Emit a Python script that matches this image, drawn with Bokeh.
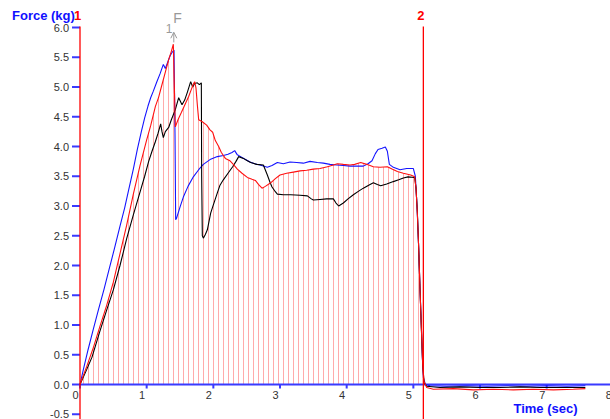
import numpy as np
from bokeh.plotting import figure
from bokeh.models import Range1d, Arrow, OpenHead
from bokeh.core.properties import value
from bokeh.embed import file_html
from bokeh.resources import INLINE

# ---------------- data ----------------
blue_t = [0.00, 0.05, 0.12, 0.20, 0.28, 0.36, 0.44, 0.52, 0.60, 0.67, 0.73, 0.80, 0.86, 0.92, 0.97,
          1.02, 1.06, 1.10, 1.15, 1.20, 1.25, 1.28, 1.31, 1.35, 1.38, 1.41, 1.425, 1.435, 1.45, 1.50,
          1.55, 1.62, 1.70, 1.78, 1.85, 1.95, 2.06, 2.15, 2.22, 2.28, 2.32, 2.36, 2.41, 2.47, 2.55,
          2.62, 2.70, 2.81, 2.88, 2.96, 3.05, 3.15, 3.25, 3.35, 3.45, 3.56, 3.65, 3.75, 3.85, 3.95,
          4.05, 4.15, 4.25, 4.32, 4.38, 4.43, 4.47, 4.53, 4.58, 4.61, 4.64, 4.70, 4.80, 4.90, 5.00,
          5.03, 5.055, 5.08, 5.10, 5.12, 5.135, 5.15, 5.18, 5.25, 5.5, 5.8, 6.1, 6.4, 6.7, 7.0, 7.3, 7.58]
blue_f = [0.00, 0.25, 0.58, 0.93, 1.27, 1.60, 1.95, 2.30, 2.66, 2.97, 3.27, 3.62, 3.95, 4.25, 4.48,
          4.68, 4.82, 4.93, 5.08, 5.22, 5.38, 5.31, 5.40, 5.52, 5.58, 5.62, 4.20, 2.77, 2.80, 2.98,
          3.15, 3.33, 3.49, 3.61, 3.70, 3.78, 3.83, 3.85, 3.87, 3.90, 3.93, 3.86, 3.83, 3.79, 3.74,
          3.71, 3.69, 3.65, 3.68, 3.73, 3.71, 3.74, 3.73, 3.72, 3.75, 3.73, 3.72, 3.70, 3.69, 3.68,
          3.67, 3.67, 3.67, 3.71, 3.76, 3.88, 3.95, 3.97, 3.99, 3.92, 3.70, 3.65, 3.61, 3.63, 3.63,
          3.50, 3.00, 2.30, 1.60, 1.00, 0.45, 0.12, 0.00, -0.02, -0.03, -0.02, -0.03, -0.02, -0.03, -0.02, -0.03, -0.02]

red_t = [0.00, 0.10, 0.20, 0.30, 0.40, 0.50, 0.60, 0.70, 0.80, 0.90, 1.00, 1.06, 1.13, 1.18, 1.22,
         1.28, 1.33, 1.37, 1.40, 1.415, 1.43, 1.47, 1.52, 1.58, 1.63, 1.67, 1.70, 1.72, 1.74, 1.76,
         1.78, 1.83, 1.90, 1.95, 1.99, 2.03, 2.08, 2.12, 2.18, 2.25, 2.30, 2.36, 2.43, 2.51, 2.58,
         2.63, 2.68, 2.73, 2.78, 2.86, 2.93, 3.00, 3.10, 3.20, 3.30, 3.40, 3.50, 3.60, 3.71, 3.80,
         3.86, 3.95, 4.05, 4.12, 4.21, 4.30, 4.40, 4.50, 4.61, 4.68, 4.76, 4.85, 4.96, 5.02, 5.04,
         5.06, 5.08, 5.10, 5.12, 5.14, 5.16, 5.20, 5.30, 5.6, 5.9, 6.2, 6.5, 6.8, 7.1, 7.4, 7.58]
red_f = [0.00, 0.30, 0.62, 0.98, 1.33, 1.72, 2.20, 2.68, 3.20, 3.68, 4.11, 4.35, 4.67, 4.83, 5.00,
         5.25, 5.46, 5.60, 5.72, 5.00, 4.33, 4.45, 4.57, 4.72, 4.84, 4.96, 5.05, 5.09, 4.98, 4.70,
         4.45, 4.42, 4.36, 4.28, 4.24, 4.10, 4.00, 3.90, 3.80, 3.76, 3.70, 3.62, 3.55, 3.48, 3.45,
         3.43, 3.36, 3.30, 3.33, 3.39, 3.46, 3.52, 3.55, 3.57, 3.59, 3.60, 3.62, 3.63, 3.66, 3.69,
         3.71, 3.70, 3.69, 3.70, 3.73, 3.70, 3.66, 3.65, 3.66, 3.62, 3.58, 3.55, 3.52, 3.49, 3.30,
         2.88, 2.30, 1.60, 0.95, 0.35, 0.05, -0.05, -0.08, -0.07, -0.09, -0.08, -0.09, -0.08, -0.09, -0.08, -0.07]

black_t = [0.00, 0.10, 0.18, 0.30, 0.40, 0.50, 0.60, 0.70, 0.80, 0.91, 0.97, 1.03, 1.08, 1.13, 1.17,
           1.21, 1.23, 1.25, 1.28, 1.33, 1.37, 1.43, 1.48, 1.53, 1.57, 1.61, 1.66, 1.69, 1.72, 1.76,
           1.79, 1.82, 1.825, 1.835, 1.85, 1.88, 1.91, 1.96, 2.00, 2.06, 2.10, 2.15, 2.22, 2.29, 2.34,
           2.38, 2.45, 2.51, 2.56, 2.65, 2.75, 2.81, 2.85, 2.88, 2.93, 2.96, 3.05, 3.16, 3.30, 3.41,
           3.47, 3.50, 3.60, 3.70, 3.80, 3.84, 3.88, 3.95, 4.02, 4.10, 4.18, 4.25, 4.33, 4.40, 4.46,
           4.51, 4.60, 4.70, 4.78, 4.85, 4.92, 5.02, 5.04, 5.06, 5.08, 5.10, 5.12, 5.14, 5.16, 5.20,
           5.40, 5.7, 6.0, 6.3, 6.6, 6.9, 7.2, 7.58]
black_f = [0.00, 0.25, 0.46, 0.90, 1.25, 1.59, 2.00, 2.45, 2.85, 3.27, 3.50, 3.75, 3.92, 4.08, 4.22,
           4.38, 4.25, 4.15, 4.25, 4.32, 4.45, 4.62, 4.82, 4.70, 4.78, 4.91, 5.09, 5.00, 5.06, 5.07,
           5.04, 5.07, 3.50, 2.50, 2.46, 2.52, 2.60, 2.88, 3.02, 3.22, 3.35, 3.44, 3.55, 3.66, 3.75,
           3.83, 3.80, 3.76, 3.73, 3.70, 3.69, 3.52, 3.40, 3.32, 3.24, 3.20, 3.19, 3.19, 3.18, 3.17,
           3.12, 3.10, 3.11, 3.12, 3.12, 3.05, 3.00, 3.05, 3.12, 3.19, 3.25, 3.30, 3.35, 3.39, 3.36,
           3.34, 3.37, 3.41, 3.44, 3.47, 3.49, 3.48, 3.30, 2.90, 2.30, 1.60, 0.95, 0.35, 0.03, -0.03,
           -0.05, -0.04, -0.05, -0.05, -0.04, -0.05, -0.05, -0.05]

marker_t = [0.0, 5.15]
marker_labels = ["1", "2"]
event_t = [1.407]
event_labels = ["1", "F"]

x_ticks = [0, 1, 2, 3, 4, 5, 6, 7, 8]
x_tick_labels = ["0", "1", "2", "3", "4", "5", "6", "7", "8"]
y_ticks = [-0.5, 0.0, 0.5, 1.0, 1.5, 2.0, 2.5, 3.0, 3.5, 4.0, 4.5, 5.0, 5.5, 6.0]
y_tick_labels = ["-0.5", "0.0", "0.5", "1.0", "1.5", "2.0", "2.5", "3.0", "3.5", "4.0", "4.5", "5.0", "5.5", "6.0"]

# ---------------- layout / style ----------------
W, H = 610, 419
X0_PX, Y0_PX = 79.5, 384.0       # pixel position of the data origin
PX_X, PX_Y = 66.67, 59.5         # pixels per data unit
AXIS_TOP = 6.0 + 1.0 / PX_Y      # top of axis / marker lines
AXIS_BLUE = "#3a3aff"
LABEL_BLUE = "#1010ff"
TICK_GREY = "#333333"
EVENT_GREY = "#999999"
FONT = value("Liberation Sans")

def dx(px):
    return px / PX_X

def dy(px):
    return px / PX_Y

p = figure(width=W, height=H, output_backend="svg", toolbar_location=None,
           x_range=Range1d(-X0_PX / PX_X, (W - X0_PX) / PX_X),
           y_range=Range1d(-(H - Y0_PX) / PX_Y, Y0_PX / PX_Y),
           x_axis_location=None, y_axis_location=None,
           min_border=0)
p.outline_line_color = None
p.grid.visible = False
p.background_fill_color = "white"
p.border_fill_color = "white"

Y_BOT = p.y_range.start
X_END = p.x_range.end

# hatch under the red curve
rt = np.array(red_t)
rf = np.array(red_f)
k = int(np.argmax(rf < 0))
p.varea(x=rt[:k], y1=0, y2=rf[:k], fill_color=None, fill_alpha=0,
        hatch_pattern="vertical_line", hatch_scale=5, hatch_weight=1,
        hatch_color="red", hatch_alpha=0.33)

# y axis (ticks + labels)
p.segment(x0=[-dx(8)] * len(y_ticks), y0=y_ticks, x1=[0] * len(y_ticks), y1=y_ticks,
          line_color=AXIS_BLUE, line_width=2)
p.text(x=[-dx(11)] * len(y_ticks), y=y_ticks, text=y_tick_labels, text_align="right",
       text_baseline="middle", text_font=FONT, text_font_size=value("11px"),
       text_color=TICK_GREY)

# x axis at y = 0
p.segment(x0=[0], y0=[0], x1=[X_END], y1=[0], line_color=AXIS_BLUE, line_width=2)
p.segment(x0=x_ticks, y0=[0] * len(x_ticks), x1=x_ticks, y1=[-dy(4)] * len(x_ticks),
          line_color=AXIS_BLUE, line_width=2)
p.text(x=[t - dx(4.5) for t in x_ticks], y=[-dy(6)] * len(x_ticks), text=x_tick_labels,
       text_align="center", text_baseline="top", text_font=FONT,
       text_font_size=value("11px"), text_color=TICK_GREY)

# curves
p.line(blue_t, blue_f, line_color="#1414ff", line_width=1.1)
p.line(black_t, black_f, line_color="black", line_width=1.1)
p.line(red_t, red_f, line_color="#ff1010", line_width=1.1)

# marker lines and labels
p.segment(x0=marker_t, y0=[Y_BOT] * len(marker_t), x1=marker_t, y1=[AXIS_TOP] * len(marker_t),
          line_color="red", line_width=1.3)
p.text(x=[t - dx(2.5) for t in marker_t], y=[AXIS_TOP + dy(11.5)] * len(marker_t),
       text=marker_labels, text_align="center", text_baseline="middle", text_font=FONT,
       text_font_size=value("13px"), text_font_style="bold", text_color="red")

# event arrow "1 F"
for t in event_t:
    p.add_layout(Arrow(x_start=t, y_start=5.75, x_end=t, y_end=5.92,
                       end=OpenHead(size=6, line_color=EVENT_GREY, line_width=1),
                       line_color=EVENT_GREY, line_width=1))
    p.text(x=[t - dx(4.8)], y=[5.92 + dy(4)], text=[event_labels[0]], text_align="center",
           text_baseline="middle", text_font=FONT, text_font_size=value("12px"),
           text_color=EVENT_GREY)
    p.text(x=[t + dx(3.7)], y=[5.92 + dy(14)], text=[event_labels[1]], text_align="center",
           text_baseline="middle", text_font=FONT, text_font_size=value("14px"),
           text_color=EVENT_GREY)

# axis titles
p.text(x=[-dx(X0_PX - 11.5)], y=[AXIS_TOP + dy(11)], text=["Force (kg)"], text_align="left",
       text_baseline="middle", text_font=FONT, text_font_size=value("13px"),
       text_font_style="bold", text_color=LABEL_BLUE)
p.text(x=[dx(577 - X0_PX)], y=[-dy(24)], text=["Time (sec)"], text_align="right",
       text_baseline="middle", text_font=FONT, text_font_size=value("13px"),
       text_font_style="bold", text_color=LABEL_BLUE)

open("out.html", "w").write(file_html(p, INLINE))
